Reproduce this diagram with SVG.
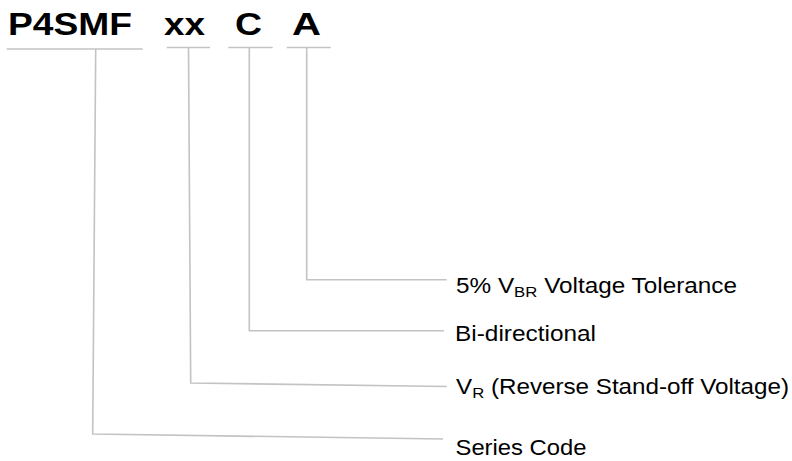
<svg xmlns="http://www.w3.org/2000/svg" width="792" height="461" viewBox="0 0 792 461">
<style>
.ln{fill:none;stroke:#c3c3c3;stroke-width:1.6}
.code{font-family:"Liberation Sans",Arial,sans-serif;font-weight:bold;font-size:31.5px;fill:#000}
.lbl{font-family:"Liberation Sans",Arial,sans-serif;font-size:22.5px;fill:#000}
.sub{font-size:15.5px}
</style>
<rect width="792" height="461" fill="#fff"/>
<g id="code-p4smf"><text class="code" x="8" y="35" textLength="124" lengthAdjust="spacingAndGlyphs">P4SMF</text></g>
<g id="code-xx"><text class="code" x="164" y="35" textLength="41" lengthAdjust="spacingAndGlyphs">xx</text></g>
<g id="code-c"><text class="code" x="235" y="35" textLength="27" lengthAdjust="spacingAndGlyphs">C</text></g>
<g id="code-a"><text class="code" x="292" y="35" textLength="29" lengthAdjust="spacingAndGlyphs">A</text></g>
<g id="connectors">
<line class="ln" x1="6.7" y1="49" x2="142.7" y2="49"/>
<line class="ln" x1="166.7" y1="47.5" x2="210" y2="47.5"/>
<line class="ln" x1="228.3" y1="47.5" x2="272.7" y2="47.5"/>
<line class="ln" x1="286.7" y1="47.5" x2="330.7" y2="47.5"/>
<polyline class="ln" points="95.7,49 92.7,434 443,439"/>
<polyline class="ln" points="188.5,47.5 190.7,383 446.7,386.5"/>
<polyline class="ln" points="249.3,47.5 249.3,330.7 444,330.7"/>
<polyline class="ln" points="306.7,47.5 306.7,279.7 446.7,279.7"/>
</g>
<g id="label-tolerance"><text class="lbl" x="456" y="293" textLength="281" lengthAdjust="spacingAndGlyphs">5% V<tspan class="sub" dy="4">BR</tspan><tspan dy="-4"> Voltage Tolerance</tspan></text></g>
<g id="label-bidir"><text class="lbl" x="455" y="340.7" textLength="141" lengthAdjust="spacingAndGlyphs">Bi-directional</text></g>
<g id="label-vr"><text class="lbl" x="456" y="394" textLength="333" lengthAdjust="spacingAndGlyphs">V<tspan class="sub" dy="4">R</tspan><tspan dy="-4"> (Reverse Stand-off Voltage)</tspan></text></g>
<g id="label-series"><text class="lbl" x="455.5" y="454.7" textLength="131" lengthAdjust="spacingAndGlyphs">Series Code</text></g>
</svg>
